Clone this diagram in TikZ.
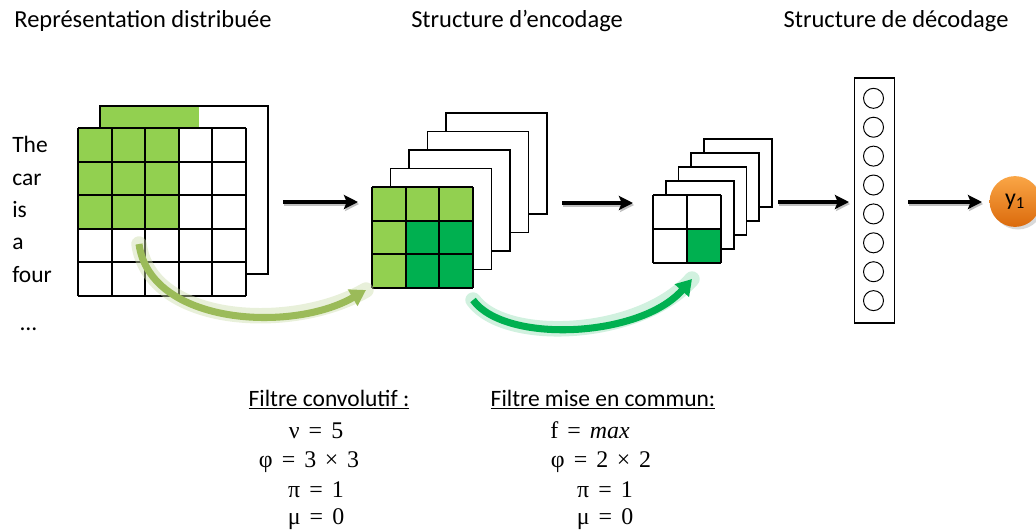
\documentclass[tikz,border=0pt]{standalone}
\usepackage{fontspec}
\setmainfont{Carlito}
\newfontfamily\eqfont{Liberation Serif}
\usetikzlibrary{arrows.meta}

\definecolor{lightgreen}{HTML}{92D050}
\definecolor{darkgreen}{HTML}{00B050}
\definecolor{olivegreen}{HTML}{9BBB59}
\definecolor{orangetop}{HTML}{FAA646}
\definecolor{orangebot}{HTML}{DB6A0C}

\newcommand{\eqsp}{\hspace{0.38em}}
\newcommand{\opsp}{\hspace{0.36em}}

\tikzset{
  gridline/.style={line width=1.4pt},
  flow/.style={line width=2.6pt, -{Stealth[length=10pt, width=10pt, inset=2pt]}},
  flowshadow/.style={flow, draw=black!25, transform canvas={shift={(0.8pt,-1.4pt)}}},
  title/.style={font=\fontsize{17.4}{21}\selectfont, inner sep=0pt, anchor=base},
  head/.style={font=\fontsize{16.7}{20}\selectfont, inner sep=0pt, anchor=base},
  word/.style={font=\fontsize{16.7}{20}\selectfont, inner sep=0pt, anchor=base west},
  eq/.style={font=\eqfont\fontsize{17}{20}\selectfont, inner sep=0pt, anchor=base},
}

\begin{document}
\begin{tikzpicture}[x=0.025cm, y=-0.025cm]
\useasboundingbox (0,0) rectangle (1036,529);

\def \cell {33.6};
\def \mcell {33.67};
\def \rcell {34};

% titles
\node [title] (reptitle) at (143,27) {Représentation distribuée};
\node [title] (enctitle) at (517,27) {Structure d’encodage};
\node [title] (dectitle) at (896,27) {Structure de décodage};

% words
\node [word] (w1) at (12,152.7) {The};
\node [word] (w2) at (12,185) {car};
\node [word] (w3) at (12,217.3) {is};
\node [word] (w4) at (12,249.6) {a};
\node [word] (w5) at (12,282) {four};
\node [word] (w6) at (20,330) {…};

% distributed representation
\fill [white] (100,106) rectangle (268,274);
\fill [lightgreen] (100,106) rectangle (199,128);
\draw [gridline] (100,106) rectangle (268,274);
\fill [white] (78,128) rectangle (246,296);
\fill [lightgreen] (78,128) rectangle (179,229);
\foreach \i in {0,...,5} {
  \draw [gridline] ({78+\cell*\i},128) -- ({78+\cell*\i},296);
  \draw [gridline] (78,{128+\cell*\i}) -- (246,{128+\cell*\i});
}

% convolution maps
\foreach \k in {4,3,2,1}
  \filldraw [fill=white, gridline] ({372+18.5*\k},{187-18.5*\k}) rectangle +(101,101);
\fill [lightgreen] (372,187) rectangle (473,288);
\fill [darkgreen] (405.67,220.67) rectangle (473,288);
\foreach \i in {0,...,3} {
  \draw [gridline] ({372+\mcell*\i},187) -- ({372+\mcell*\i},288);
  \draw [gridline] (372,{187+\mcell*\i}) -- (473,{187+\mcell*\i});
}

% pooling maps
\foreach \k in {4,3,2,1}
  \filldraw [fill=white, gridline] ({653+12.75*\k},{195-14*\k}) rectangle +(68,68);
\fill [white] (653,195) rectangle (721,263);
\fill [darkgreen] (687,229) rectangle (721,263);
\foreach \i in {0,1,2} {
  \draw [gridline] ({653+\rcell*\i},195) -- ({653+\rcell*\i},263);
  \draw [gridline] (653,{195+\rcell*\i}) -- (721,{195+\rcell*\i});
}

% decoder
\node [draw, line width=0.8pt, minimum width=1cm, minimum height=6.125cm, inner sep=0pt] (dec) at (874.5,200.5) {};
\foreach \k in {0,...,7}
  \node [draw, circle, line width=0.7pt, minimum size=0.5cm, inner sep=0pt] (unit\k) at (873.5,{98.3+28.9*\k}) {};

% output
\fill [black!15] (1018,204) circle (25.5);
\node [circle, minimum size=1.27cm, inner sep=0pt, top color=orangetop, bottom color=orangebot,
       font=\fontsize{17}{20}\selectfont] (yone) at (1015,201.5) {y\textsubscript{1}};

% flow arrows
\coordinate (a1) at (283,202);
\coordinate (b1) at (358,202);
\coordinate (a2) at (562,203);
\coordinate (b2) at (633,203);
\coordinate (a3) at (778,202);
\coordinate (b3) at (849,202);
\coordinate (a4) at (908,202);
\coordinate (b4) at (982,202);
\foreach \n in {1,...,4} {
  \draw [flowshadow] (a\n) -- (b\n);
  \draw [flow] (a\n) -- (b\n);
}

% filter moves
\coordinate (c1) at (139,244);
\coordinate (d1) at (366,290);
\coordinate (c2) at (473,300);
\coordinate (d2) at (692,279);
\draw [line width=11pt, olivegreen!50, opacity=0.45, line cap=round] (c1) .. controls (150,325) and (292,333) .. (d1);
\draw [line width=5pt, olivegreen, -{Triangle[length=11pt, width=13pt]}] (c1) .. controls (150,325) and (292,333) .. (d1);
\draw [line width=11pt, darkgreen!40, opacity=0.45, line cap=round] (c2) .. controls (505,344) and (640,338) .. (d2);
\draw [line width=5pt, darkgreen, -{Triangle[length=11pt, width=13pt]}] (c2) .. controls (505,344) and (640,338) .. (d2);

% filter settings
\node [head] (convhead) at (329,406) {\underline{Filtre convolutif :}};
\node [eq] (conv1) at (316,438) {ν\eqsp=\eqsp5};
\node [eq] (conv2) at (309,467.5) {φ\eqsp=\eqsp3\opsp×\opsp3};
\node [eq] (conv3) at (316,497) {π\eqsp=\eqsp1};
\node [eq] (conv4) at (316,524) {μ\eqsp=\eqsp0};

\node [head] (poolhead) at (603,406) {\underline{Filtre mise en commun:}};
\node [eq] (pool1) at (590,438) {f\eqsp=\eqsp\textit{max}};
\node [eq] (pool2) at (601,467.5) {φ\eqsp=\eqsp2\opsp×\opsp2};
\node [eq] (pool3) at (605,497) {π\eqsp=\eqsp1};
\node [eq] (pool4) at (605,524) {μ\eqsp=\eqsp0};

\end{tikzpicture}
\end{document}
